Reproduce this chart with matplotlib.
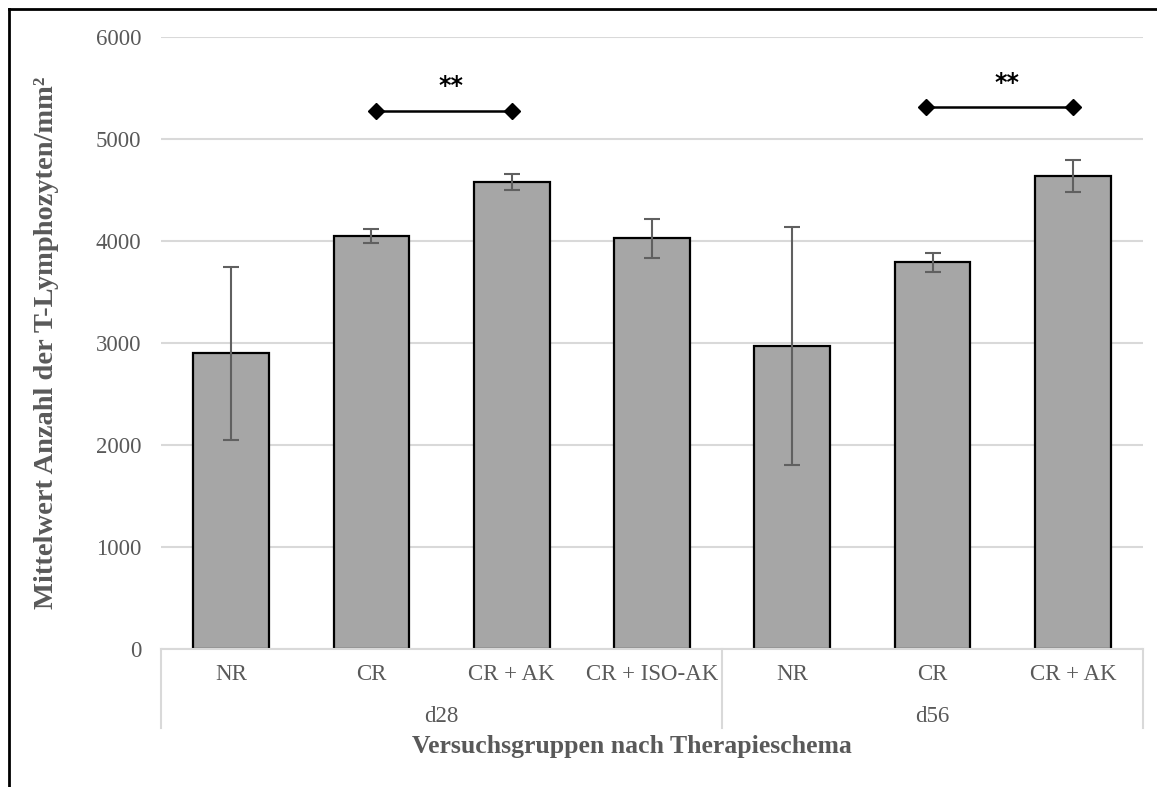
import matplotlib
matplotlib.use("Agg")
import matplotlib.pyplot as plt
import numpy as np
from matplotlib.lines import Line2D

plt.rcParams['font.family'] = ['Liberation Serif', 'DejaVu Serif']

# data
categories = ['NR', 'CR', 'CR + AK', 'CR + ISO-AK', 'NR', 'CR', 'CR + AK']
groups = ['d28', 'd56']
group_sizes = [4, 3]
means = [2900, 4050, 4580, 4025, 2970, 3790, 4640]
errors = [850, 65, 80, 195, 1170, 95, 155]

# significance brackets (category position, height)
sig_d28_x = [1.03, 2.0]
sig_d28_y = [5275, 5275]
sig_d56_x = [4.955, 6.0]
sig_d56_y = [5310, 5310]
sig_labels = ['**', '**']

yticks = [0, 1000, 2000, 3000, 4000, 5000, 6000]

grey_txt = '#595959'

fig = plt.figure(figsize=(11.57, 7.87), dpi=100)
ax = fig.add_axes([161 / 1157, 1 - 649 / 787, (1143 - 161) / 1157, (649 - 37) / 787])

x = np.arange(len(categories))
ax.bar(x, means, width=0.54, color='#a6a6a6', edgecolor='black', linewidth=1.6, zorder=2)
ax.errorbar(x, means, yerr=errors, fmt='none', ecolor='#606060', elinewidth=1.5,
            capsize=6, capthick=1.5, zorder=3)

# significance markers
for xs, ys, lab in [(sig_d28_x, sig_d28_y, sig_labels[0]), (sig_d56_x, sig_d56_y, sig_labels[1])]:
    ax.plot(xs, ys, color='black', linewidth=1.8, marker='D', markersize=8, zorder=4)
    ax.text(np.mean(xs) + 0.05, ys[0] + 240, lab, ha='center', va='center',
            fontsize=17, fontweight='bold', family='DejaVu Sans', color='black')

ax.set_xlim(-0.5, len(categories) - 0.5)
ax.set_ylim(0, 6000)
ax.set_yticks(yticks)
ax.set_yticklabels([str(t) for t in yticks], fontsize=16.5, color=grey_txt)
ax.tick_params(axis='y', length=0, pad=14)
ax.set_xticks([])
ax.yaxis.grid(True, color='#d9d9d9', linewidth=1.5, zorder=0)
ax.set_axisbelow(True)
for s in ['top', 'right', 'left']:
    ax.spines[s].set_visible(False)
ax.spines['bottom'].set_color('#d9d9d9')
ax.spines['bottom'].set_linewidth(1.5)

# multi-level category axis
trans = ax.get_xaxis_transform()
drop = -79 / 612
for i, c in enumerate(categories):
    ax.text(i, -26 / 612, c, transform=trans, ha='center', va='center', fontsize=16.5, color=grey_txt)
edges = np.concatenate([[0], np.cumsum(group_sizes)]) - 0.5
for e in edges:
    ax.add_line(Line2D([e, e], [0, drop], transform=trans, color='#d9d9d9', linewidth=1.5, clip_on=False))
for g, a, b in zip(groups, edges[:-1], edges[1:]):
    ax.text((a + b) / 2, -67 / 612, g, transform=trans, ha='center', va='center', fontsize=16.5, color=grey_txt)

ax.text((632 - 161) / 982, -98 / 612, 'Versuchsgruppen nach Therapieschema', transform=ax.transAxes,
        ha='center', va='center', fontsize=18.5, fontweight='bold', color=grey_txt)
fig.text(47 / 1157, 1 - 343 / 787, 'Mittelwert Anzahl der T-Lymphozyten/mm²', rotation=90,
         ha='center', va='center', fontsize=20.5, fontweight='bold', color=grey_txt)

# outer frame (left and top edge visible)
fig.add_artist(Line2D([9 / 1157, 9 / 1157], [0, 1 - 9 / 787], transform=fig.transFigure, color='black', linewidth=2))
fig.add_artist(Line2D([9 / 1157, 1], [1 - 9 / 787, 1 - 9 / 787], transform=fig.transFigure, color='black', linewidth=2))

fig.savefig('out.png', dpi=100)
